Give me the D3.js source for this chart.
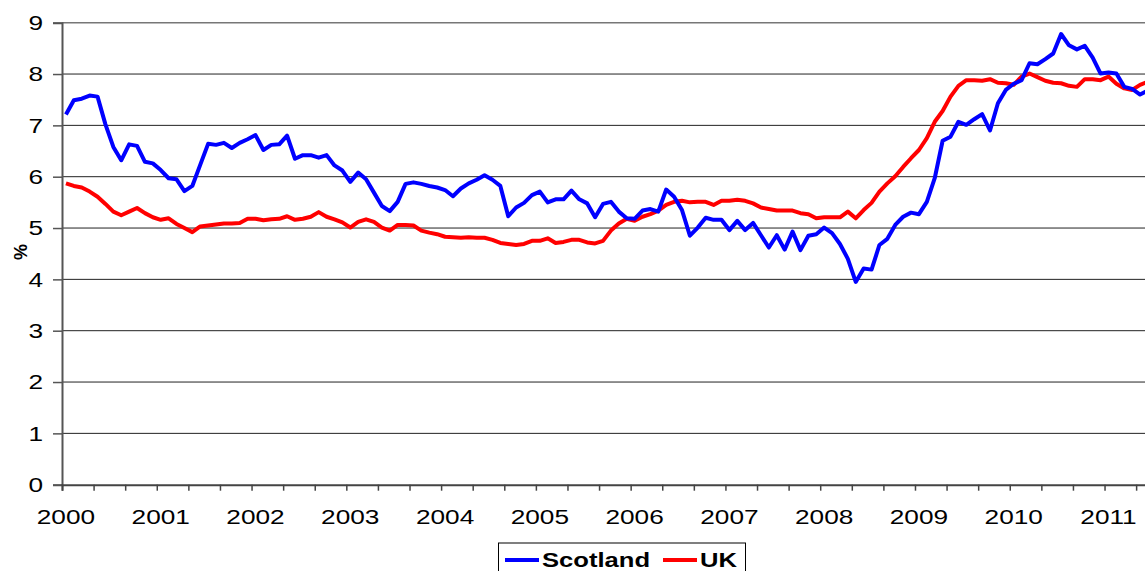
<!DOCTYPE html>
<html>
<head>
<meta charset="utf-8">
<script src="https://cdn.jsdelivr.net/npm/d3@7"></script>
<style>
  body { margin: 0; background: #fff; }
  svg { display: block; font-family: "Liberation Sans", Arial, sans-serif; }
</style>
</head>
<body>
<script>
// monthly rate (%), Jan 2000 onwards
const scotland = [
  7.21, 7.49, 7.52, 7.58, 7.56, 7.02, 6.58, 6.32, 6.63, 6.60,
  6.29, 6.26, 6.13, 5.97, 5.95, 5.72, 5.82, 6.23, 6.64, 6.62,
  6.66, 6.56, 6.66, 6.73, 6.81, 6.52, 6.62, 6.63, 6.80, 6.35,
  6.42, 6.42, 6.37, 6.42, 6.22, 6.12, 5.90, 6.08, 5.95, 5.69,
  5.43, 5.33, 5.51, 5.86, 5.89, 5.86, 5.82, 5.79, 5.74, 5.62,
  5.77, 5.87, 5.94, 6.03, 5.94, 5.82, 5.23, 5.40, 5.49, 5.64,
  5.71, 5.50, 5.56, 5.56, 5.73, 5.56, 5.48, 5.21, 5.47, 5.51,
  5.32, 5.19, 5.18, 5.34, 5.37, 5.32, 5.75, 5.61, 5.35, 4.85,
  5.01, 5.20, 5.16, 5.16, 4.96, 5.14, 4.96, 5.10, 4.86, 4.62,
  4.86, 4.58, 4.93, 4.57, 4.85, 4.88, 5.01, 4.90, 4.69, 4.40,
  3.95, 4.21, 4.19, 4.67, 4.79, 5.06, 5.22, 5.30, 5.27, 5.51,
  5.97, 6.70, 6.78, 7.07, 7.01, 7.12, 7.22, 6.90, 7.43, 7.69,
  7.81, 7.88, 8.21, 8.19, 8.29, 8.40, 8.78, 8.56, 8.48, 8.55,
  8.32, 8.01, 8.03, 8.01, 7.75, 7.71, 7.60, 7.68
];
const uk = [
  5.87, 5.82, 5.79, 5.71, 5.61, 5.47, 5.32, 5.25, 5.32, 5.39,
  5.29, 5.21, 5.16, 5.19, 5.08, 5.00, 4.92, 5.03, 5.05, 5.07,
  5.09, 5.09, 5.10, 5.18, 5.18, 5.15, 5.17, 5.18, 5.23, 5.16,
  5.18, 5.22, 5.31, 5.22, 5.17, 5.11, 5.01, 5.12, 5.17, 5.12,
  5.01, 4.95, 5.06, 5.06, 5.05, 4.95, 4.91, 4.88, 4.83, 4.82,
  4.81, 4.82, 4.81, 4.81, 4.77, 4.71, 4.69, 4.67, 4.69, 4.75,
  4.75, 4.80, 4.71, 4.73, 4.77, 4.77, 4.72, 4.70, 4.75, 4.95,
  5.09, 5.18, 5.14, 5.22, 5.27, 5.34, 5.45, 5.51, 5.53, 5.50,
  5.51, 5.51, 5.45, 5.53, 5.53, 5.55, 5.53, 5.48, 5.40, 5.37,
  5.34, 5.34, 5.34, 5.29, 5.27, 5.19, 5.21, 5.21, 5.21, 5.32,
  5.19, 5.35, 5.49, 5.71, 5.87, 6.01, 6.19, 6.36, 6.52, 6.75,
  7.07, 7.28, 7.56, 7.77, 7.88, 7.88, 7.87, 7.90, 7.83, 7.82,
  7.79, 7.95, 8.01, 7.94, 7.87, 7.83, 7.82, 7.77, 7.75, 7.90,
  7.90, 7.88, 7.95, 7.81, 7.72, 7.69, 7.79, 7.85
];
const years = ["2000","2001","2002","2003","2004","2005","2006","2007","2008","2009","2010","2011"];
const yTicks = [0,1,2,3,4,5,6,7,8,9];

const width = 1145, height = 571;
const plotLeft = 62, plotTop = 22.7, plotBottom = 484.7;
const catW = 7.898;
const n = scotland.length;
const stretch = "scale(1.28,1)"; // the source picture's text is wide

const svg = d3.select("body").append("svg").attr("width", width).attr("height", height);

// categories as month indices, band centres
const x = d3.scaleLinear().domain([0, n]).range([plotLeft, plotLeft + n * catW]);
const y = d3.scaleLinear().domain([0, 9]).range([plotBottom, plotTop]);

// gridlines
svg.append("g").selectAll("line")
  .data(yTicks.filter(d => d > 0)).enter()
  .append("line")
  .attr("x1", plotLeft).attr("x2", width)
  .attr("y1", d => y(d)).attr("y2", d => y(d))
  .style("stroke", d => d == 9 ? "#777" : "#222")
  .style("stroke-width", d => d == 9 ? 1.5 : 1);

// y axis (labels drawn separately so they can be widened)
const yAxis = svg.append("g").attr("transform", `translate(${plotLeft},0)`)
  .call(d3.axisLeft(y).tickValues(yTicks).tickSize(9).tickFormat(""));
yAxis.select(".domain").style("stroke", "#555").style("stroke-width", 2);
yAxis.selectAll(".tick line").style("stroke", "#555").style("stroke-width", 1.5);

svg.append("g").selectAll("text")
  .data(yTicks).enter()
  .append("text")
  .attr("transform", d => `translate(43,${y(d) + 7.3}) ${stretch}`)
  .attr("text-anchor", "end")
  .style("font-size", "20.5px")
  .text(d => d);

// x axis: ticks every 4 months, labels every 12
const xTicks = d3.range(0, n + 1, 4);
const xAxis = svg.append("g").attr("transform", `translate(0,${plotBottom})`)
  .call(d3.axisBottom(x).tickValues(xTicks).tickSize(6).tickFormat(""));
xAxis.select(".domain").style("stroke", "#444").style("stroke-width", 2);
xAxis.selectAll(".tick line").style("stroke", "#444").style("stroke-width", 1.5);

svg.append("g").selectAll("text")
  .data(years).enter()
  .append("text")
  .attr("transform", (d, i) => `translate(${x(i * 12 + 0.5)},524) ${stretch}`)
  .attr("text-anchor", "middle")
  .style("font-size", "20.5px")
  .text(d => d);

// % label
svg.append("text")
  .attr("transform", "translate(26.5,252) rotate(-90)")
  .attr("text-anchor", "middle")
  .style("font-size", "18px").style("font-weight", "bold")
  .text("%");

// lines
const line = d3.line().x((d, i) => x(i + 0.5)).y(d => y(d));
svg.append("path").datum(uk)
  .attr("d", line)
  .style("fill", "none").style("stroke", "#ff0000").style("stroke-width", 4)
  .style("stroke-linejoin", "round");
svg.append("path").datum(scotland)
  .attr("d", line)
  .style("fill", "none").style("stroke", "#0000ff").style("stroke-width", 4)
  .style("stroke-linejoin", "round");

// legend
const lg = svg.append("g");
lg.append("rect").attr("x", 498.5).attr("y", 543).attr("width", 247).attr("height", 40)
  .style("fill", "#fff").style("stroke", "#000").style("stroke-width", 1);
const items = [["Scotland", "#0000ff", 505], ["UK", "#ff0000", 663]];
items.forEach(([name, col, lx]) => {
  lg.append("line").attr("x1", lx).attr("x2", lx + 34).attr("y1", 560).attr("y2", 560)
    .style("stroke", col).style("stroke-width", 4);
  lg.append("text").attr("transform", `translate(${lx + 37},566.5) ${stretch}`)
    .style("font-size", "20px").style("font-weight", "bold")
    .text(name);
});
</script>
</body>
</html>
